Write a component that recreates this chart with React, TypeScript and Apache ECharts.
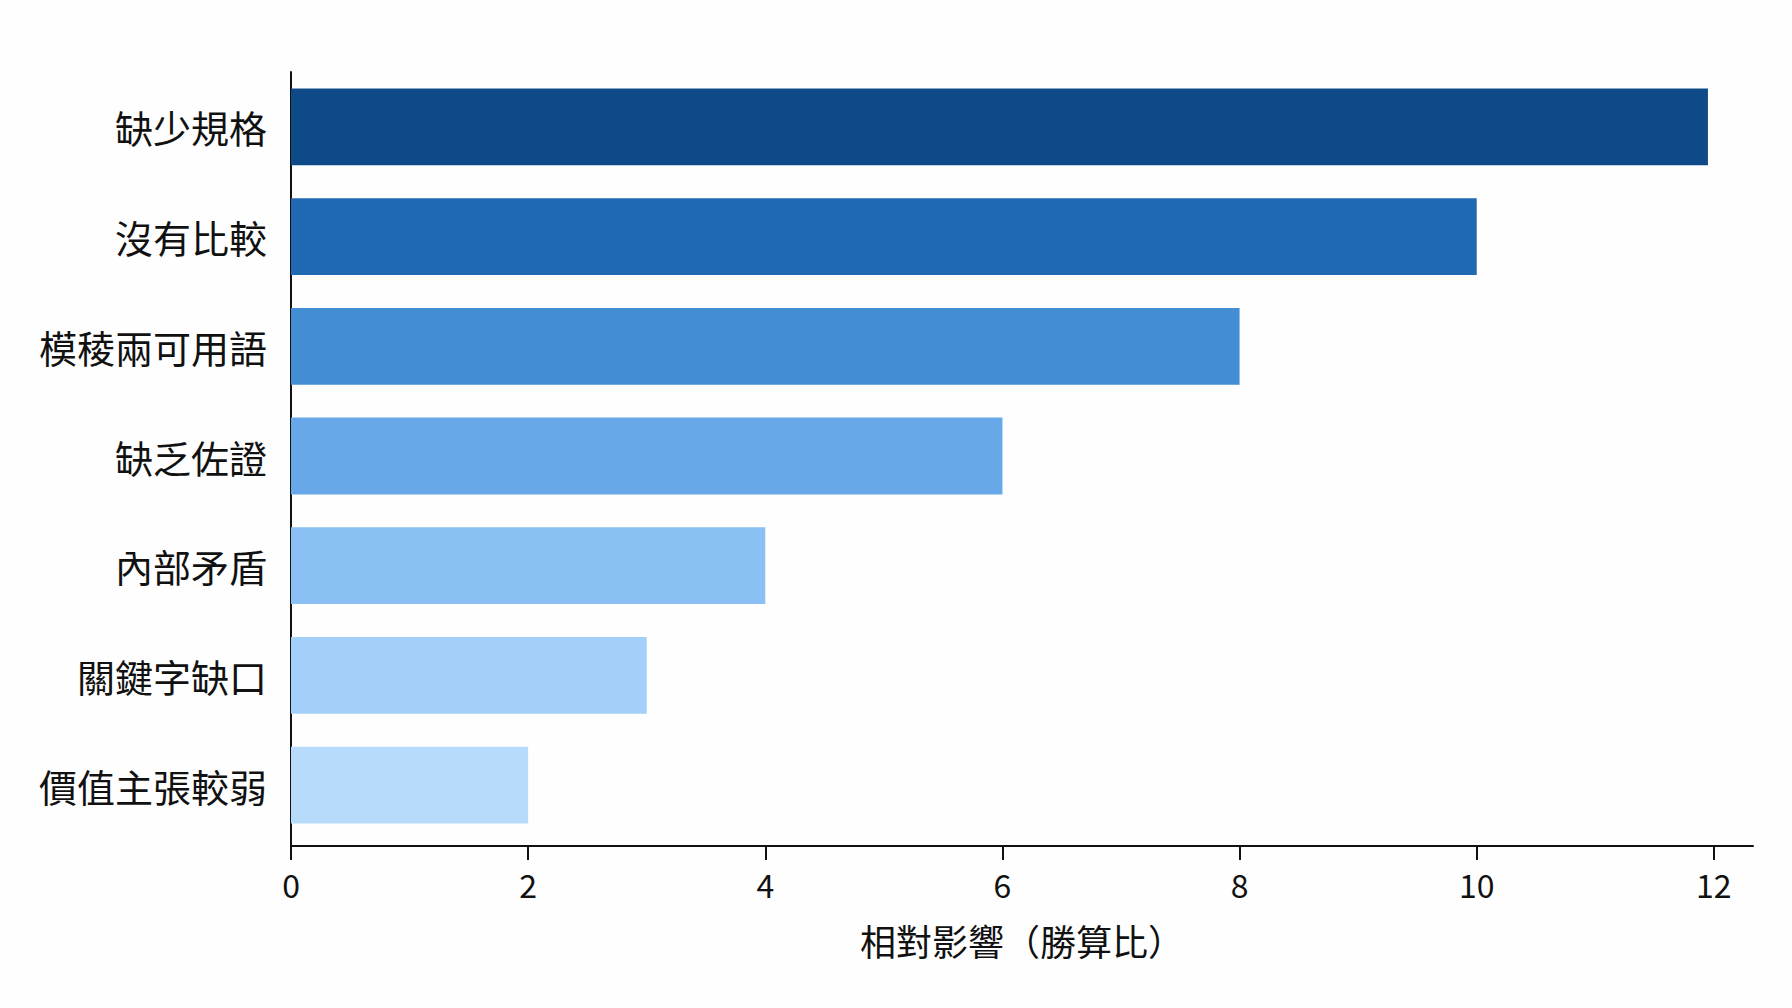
import React, { useEffect, useRef } from "react";
import * as echarts from "echarts";

const categories = ["缺少規格", "沒有比較", "模稜兩可用語", "缺乏佐證", "內部矛盾", "關鍵字缺口", "價值主張較弱"];
const values = [11.95, 10, 8, 6, 4, 3, 2];
const barColors = ["#0e4a88", "#2068b2", "#438dd4", "#66a8e8", "#8ac0f4", "#a3cff8", "#b6dbfb"];
const tickValues = [0, 2, 4, 6, 8, 10, 12];
const axisName = "相對影響（勝算比）";

const FONT = '"Noto Sans CJK TC", "Noto Sans", sans-serif';

const GRID_LEFT = 291;
const GRID_TOP = 72;
const GRID_BOTTOM = 168;
const X_AXIS_OFFSET = 6;

export default function App() {
  const ref = useRef<HTMLDivElement>(null);
  useEffect(() => {
    if (!ref.current) return;
    const chart = echarts.init(ref.current, null, { renderer: "svg" });
    const H = 1008;
    chart.setOption({
      animation: false,
      backgroundColor: "#fefefe",
      textStyle: { fontFamily: FONT },
      grid: { left: GRID_LEFT, right: 39, top: GRID_TOP, bottom: GRID_BOTTOM, containLabel: false },
      xAxis: {
        type: "value",
        min: 0,
        max: 12.33,
        interval: 2,
        offset: X_AXIS_OFFSET,
        splitLine: { show: false },
        axisLine: { show: true, lineStyle: { color: "#111", width: 2 } },
        axisTick: { show: true, length: 14, lineStyle: { color: "#111", width: 2 }, customValues: tickValues },
        axisLabel: { fontSize: 32, color: "#111", margin: 22, fontFamily: FONT, customValues: tickValues },
        name: axisName,
        nameLocation: "middle",
        nameGap: 76,
        nameTextStyle: { fontSize: 36, color: "#111", fontFamily: FONT },
      },
      yAxis: {
        type: "category",
        data: categories,
        inverse: true,
        axisLine: { show: true, lineStyle: { color: "#111", width: 2 } },
        axisTick: { show: false },
        splitLine: { show: false },
        axisLabel: { fontSize: 38, color: "#111", margin: 24, fontFamily: FONT },
      },
      graphic: [
        {
          type: "line",
          silent: true,
          shape: {
            x1: GRID_LEFT,
            y1: H - GRID_BOTTOM - 1,
            x2: GRID_LEFT,
            y2: H - GRID_BOTTOM + X_AXIS_OFFSET + 1,
          },
          style: { stroke: "#111", lineWidth: 2 },
        },
      ],
      series: [
        {
          type: "bar",
          barWidth: "70%",
          data: values.map((v, i) => ({ value: v, itemStyle: { color: barColors[i] } })),
        },
      ],
    });
    return () => chart.dispose();
  }, []);
  return (
    <div
      ref={ref}
      style={{ position: "fixed", left: 0, top: 0, width: 1792, height: 1008, background: "#fefefe" }}
    />
  );
}
